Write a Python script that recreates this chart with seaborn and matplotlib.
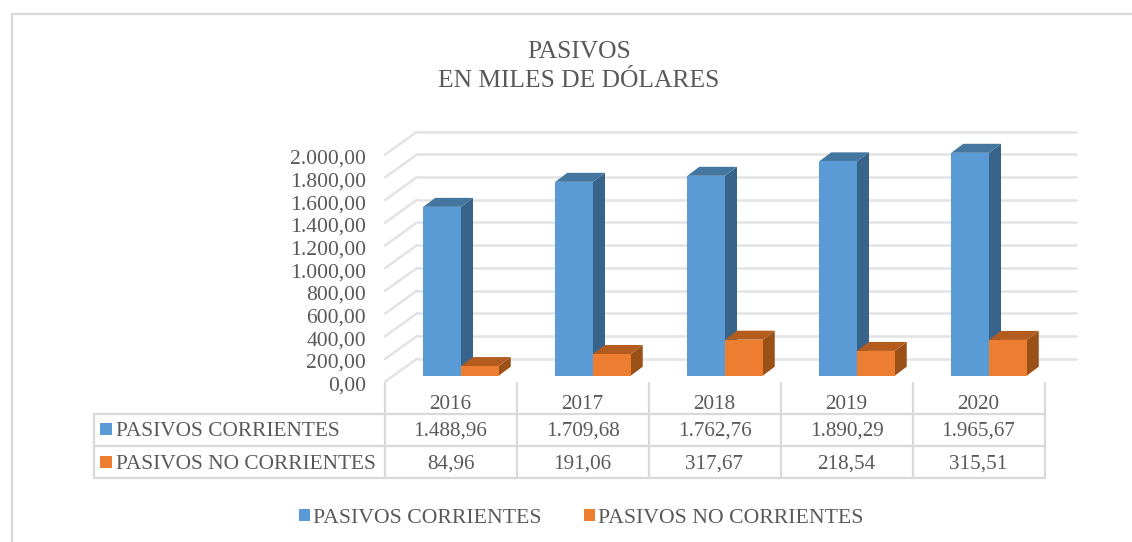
import matplotlib
matplotlib.use('Agg')
import matplotlib.pyplot as plt
from matplotlib.patches import Polygon, ConnectionPatch
from matplotlib.transforms import ScaledTranslation
import pandas as pd
import seaborn as sns

years = ['2016', '2017', '2018', '2019', '2020']
series_names = ['PASIVOS CORRIENTES', 'PASIVOS NO CORRIENTES']
corrientes = [1488.96, 1709.68, 1762.76, 1890.29, 1965.67]
no_corrientes = [84.96, 191.06, 317.67, 218.54, 315.51]
y_ticks = [0, 200, 400, 600, 800, 1000, 1200, 1400, 1600, 1800, 2000]

W, H = 1132, 542
TEXT = '#595959'
LINE = '#D9D9D9'
GRID = '#E3E3E3'
FONT = 'Liberation Serif'
faces = {series_names[0]: ('#5B9BD5', '#38648C', '#44779F'),
         series_names[1]: ('#ED7D31', '#9A5118', '#B35C1E')}


def fmt(v):
    return f'{v:,.2f}'.replace(',', 'X').replace('.', ',').replace('X', '.')


def axes_px(fig, left, right, top, bottom):
    return fig.add_axes([left/W, 1-bottom/H, (right-left)/W, (bottom-top)/H])


sns.set_theme(style='white')
plt.rcParams['font.family'] = FONT

df = pd.DataFrame({'year': years*2,
                   'serie': [series_names[0]]*5 + [series_names[1]]*5,
                   'value': corrientes + no_corrientes})

fig = plt.figure(figsize=(W/100, H/100), dpi=100)

# overlay in pixels for the frame and the data table
over = fig.add_axes([0, 0, 1, 1])
over.set_xlim(0, W)
over.set_ylim(H, 0)
over.axis('off')
over.plot([12, 12], [14, H], color=LINE, lw=1.6)
over.plot([12, W], [14, 14], color=LINE, lw=1.6)

# front plane (tick labels), back wall (grid), bar plane
ax_front = axes_px(fig, 385, 1045, 154.7, 381.7)
ax_back = axes_px(fig, 417, 1077, 131.7, 358.7)
ax = axes_px(fig, 395, 1055, 148.9, 375.7)

for a in (ax_front, ax_back, ax):
    a.set_xlim(-0.5, 4.5)
    a.set_ylim(0, 2000)
    a.patch.set_alpha(0)
    sns.despine(ax=a, left=True, bottom=True)

ax_back.hlines(y_ticks, -0.5, 4.5, color=GRID, lw=1.8, clip_on=False)
ax_back.set_xticks([])
ax_back.set_yticks([])
for v in y_ticks:
    fig.add_artist(ConnectionPatch((-0.5, v), (-0.5, v), coordsA=ax_front.transData,
                                   coordsB=ax_back.transData, color=GRID, lw=1.8))

ax_front.set_xticks([])
ax_front.set_yticks(y_ticks)
ax_front.set_yticklabels([fmt(v) for v in y_ticks], fontsize=15.6, color=TEXT, family=FONT)
ax_front.tick_params(axis='y', length=0, pad=13.5)
label_shift = ScaledTranslation(0, -2/100, fig.dpi_scale_trans)
for lab in ax_front.get_yticklabels():
    lab.set_transform(lab.get_transform() + label_shift)

sns.barplot(data=df, x='year', y='value', hue='serie', order=years, hue_order=series_names,
            palette={k: v[0] for k, v in faces.items()}, width=0.572, gap=0, saturation=1,
            linewidth=0, ax=ax)
ax.set_xlim(-0.5, 4.5)
ax.set_ylim(0, 2000)
ax.set_xticks([])
ax.set_yticks([])
ax.set_xlabel('')
ax.set_ylabel('')
handles, labels = ax.get_legend_handles_labels()
ax.get_legend().remove()

# depth of the 3d boxes, in data units
dx = 12/132
dy = 9/(226.8/2000)
for k, name in enumerate(series_names):
    base_z = 2 + 2*k
    front, side, top = faces[name]
    for bar in ax.containers[k]:
        x0, x1 = bar.get_x(), bar.get_x()+bar.get_width()
        h = bar.get_height()
        bar.set_zorder(base_z+1)
        ax.add_patch(Polygon([(x1, 0), (x1+dx, dy), (x1+dx, h+dy), (x1, h)], color=side,
                             lw=0, zorder=base_z, clip_on=False))
        ax.add_patch(Polygon([(x0, h), (x0+dx, h+dy), (x1+dx, h+dy), (x1, h)], color=top,
                             lw=0, zorder=base_z, clip_on=False))

# data table
cols = [385 + 132*i for i in range(6)]
rows = [413.5, 446, 478]
left = 93.5
for y in rows:
    over.plot([left, cols[-1]], [y, y], color=LINE, lw=1.6, solid_capstyle='projecting')
over.plot([left, left], [rows[0], rows[-1]], color=LINE, lw=1.6)
for x in cols:
    over.plot([x, x], [383, rows[-1]], color=LINE, lw=1.6)
for i, year in enumerate(years):
    xc = (cols[i]+cols[i+1])/2 - 0.5
    over.text(xc, 404.5, year, ha='center', va='center', fontsize=15.2, color=TEXT)
    over.text(xc, 431.5, fmt(corrientes[i]), ha='center', va='center', fontsize=15.2, color=TEXT)
    over.text(xc, 464, fmt(no_corrientes[i]), ha='center', va='center', fontsize=15.2, color=TEXT)
for y, name in zip([428.5, 461.5], series_names):
    over.scatter([105.5], [y], marker='s', s=63, color=faces[name][0], lw=0)
    over.text(115.5, y+2.8, name, ha='left', va='center', fontsize=15.4, color=TEXT)

# title
fig.text(579/W, 1-52/H, 'PASIVOS', ha='center', va='center', fontsize=18.4, color=TEXT)
fig.text(579/W, 1-81/H, 'EN MILES DE DÓLARES', ha='center', va='center', fontsize=18.4, color=TEXT)

# legend
fig.legend(handles, labels, loc='center', bbox_to_anchor=(581/W, 1-518.5/H), ncol=2, frameon=False,
           fontsize=15.7, labelcolor=TEXT, handlelength=0.5, handleheight=0.5,
           handletextpad=0.15, columnspacing=1.95)

fig.savefig('out.png', dpi=100)
